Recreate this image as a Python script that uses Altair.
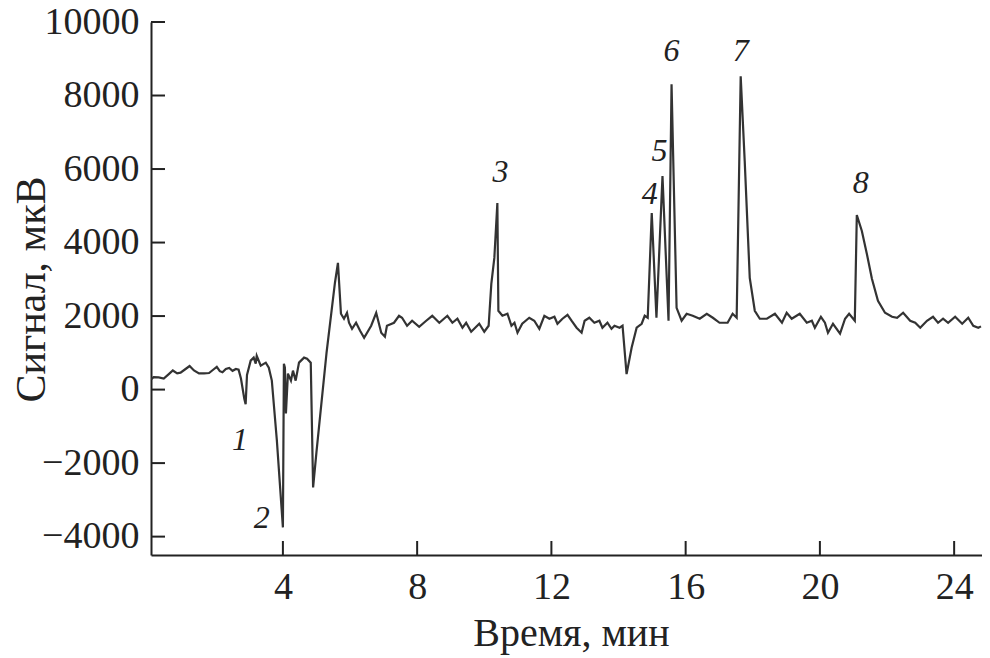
import altair as alt
import pandas as pd

# Chromatogram trace: time (min) and signal (uV)
time_min = [
    0.07, 0.15, 0.30, 0.45, 0.60, 0.72, 0.85, 0.95, 1.10, 1.22, 1.35, 1.50, 1.65, 1.80, 1.95,
    2.03, 2.12, 2.20, 2.30, 2.40, 2.50, 2.60, 2.68, 2.75, 2.85, 2.89, 2.93, 3.04, 3.13, 3.19,
    3.22, 3.34, 3.49, 3.58, 3.67, 3.82, 4.00, 4.03, 4.06, 4.09, 4.15, 4.24, 4.30, 4.38, 4.48,
    4.63, 4.72, 4.83, 4.90, 5.00, 5.30, 5.55, 5.64, 5.73, 5.82, 5.91, 5.97, 6.06, 6.18, 6.30,
    6.42, 6.63, 6.78, 6.93, 7.04, 7.10, 7.31, 7.46, 7.55, 7.70, 7.85, 8.06, 8.27, 8.45, 8.66,
    8.90, 9.05, 9.20, 9.35, 9.46, 9.61, 9.85, 10.00, 10.13, 10.21, 10.30, 10.39, 10.42, 10.54,
    10.69, 10.81, 10.90, 10.99, 11.13, 11.34, 11.49, 11.64, 11.79, 11.94, 12.09, 12.18, 12.33,
    12.48, 12.60, 12.75, 12.90, 12.99, 13.13, 13.28, 13.43, 13.52, 13.67, 13.79, 13.88, 14.03,
    14.12, 14.24, 14.39, 14.54, 14.69, 14.78, 14.87, 14.99, 15.13, 15.31, 15.49, 15.58, 15.73,
    15.88, 16.03, 16.21, 16.42, 16.63, 16.81, 17.01, 17.25, 17.40, 17.52, 17.64, 17.76, 17.91,
    18.06, 18.21, 18.42, 18.66, 18.87, 19.01, 19.16, 19.40, 19.61, 19.76, 19.85, 20.03, 20.15,
    20.24, 20.39, 20.60, 20.75, 20.87, 21.04, 21.10, 21.25, 21.40, 21.55, 21.73, 21.94, 22.15,
    22.30, 22.48, 22.69, 22.84, 22.99, 23.19, 23.37, 23.52, 23.67, 23.82, 24.03, 24.24, 24.42,
    24.57, 24.72, 24.80,
]
signal_uv = [
    280, 340, 330, 300, 420, 520, 440, 460, 560, 640, 520, 440, 440, 450, 560,
    620, 500, 470, 560, 590, 510, 560, 540, 300, -250, -400, 400, 787, 870, 705,
    920, 650, 733, 597, 244, -1384, -3750, 705, 600, -650, 434, 244, 515, 244, 733,
    870, 840, 733, -2660, -1700, 1000, 2900, 3447, 2063, 1927, 2090, 1818, 1655, 1818, 1600,
    1411, 1737, 2090, 1547, 1438, 1737, 1818, 2008, 1954, 1737, 1873, 1710, 1873, 2008, 1818,
    2008, 1818, 1927, 1683, 1818, 1574, 1791, 1574, 1737, 2877, 3582, 5075, 2144, 2008,
    2063, 1737, 1818, 1547, 1791, 1954, 1873, 1655, 2008, 1927, 1981, 1791, 1927,
    2035, 1873, 1683, 1547, 1873, 1954, 1818, 1873, 1683, 1818, 1655, 1737, 1683,
    1737, 420, 1140, 1683, 1791, 2008, 1954, 4804, 1954, 5808, 1873, 8305, 2225,
    1873, 2063, 2008, 1927, 2063, 1954, 1818, 1818, 2063, 1954, 8522, 6215, 3040,
    2144, 1927, 1927, 2063, 1818, 2090, 1927, 2063, 1818, 1873, 1683, 1981, 1818,
    1547, 1791, 1520, 1927, 2063, 1873, 4750, 4315, 3690, 3013, 2415, 2090, 1981,
    1954, 2090, 1873, 1818, 1683, 1873, 1981, 1818, 1927, 1818, 1981, 1791, 1954,
    1737, 1683, 1720,
]

# Peak numbers and where they sit
peak_labels = ["1", "2", "3", "4", "5", "6", "7", "8"]
peak_t = [2.72, 3.37, 10.48, 14.93, 15.22, 15.58, 17.64, 21.22]
peak_v = [-1384, -3500, 5916, 5320, 6486, 9200, 9200, 5618]

y_ticks = [-4000, -2000, 0, 2000, 4000, 6000, 8000, 10000]
x_ticks = [4, 8, 12, 16, 20, 24]

W, H = 831, 533
INK = "#222222"
SERIF = "Liberation Serif"

xs = alt.Scale(domain=[0.07, 24.83], nice=False, zero=False)
ys = alt.Scale(domain=[-4500, 10000], nice=False, zero=False)

x_axis = alt.Axis(
    values=x_ticks, title="Время, мин", format="d",
    labelFontSize=38, labelPadding=13,
    titleFontSize=40, titleX=420, titleY=90,
    titleBaseline="alphabetic", titleAlign="center",
)
y_axis = alt.Axis(
    values=y_ticks, title="Сигнал, мкВ", format="d",
    labelFontSize=38, labelPadding=12,
    titleFontSize=42, titleAngle=270, titleX=-107, titleY=267,
    titleBaseline="alphabetic", titleAlign="center",
)

trace = pd.DataFrame({"t": time_min, "v": signal_uv})
labels = pd.DataFrame({"t": peak_t, "v": peak_v, "label": peak_labels})

line = alt.Chart(trace).mark_line(color="#333333", strokeWidth=2.2, clip=True).encode(
    x=alt.X("t:Q", scale=xs, axis=x_axis),
    y=alt.Y("v:Q", scale=ys, axis=y_axis),
)

yt = alt.Chart(pd.DataFrame({"v": y_ticks})).mark_rule(color=INK, strokeWidth=2).encode(
    y=alt.Y("v:Q", scale=ys, axis=y_axis),
    x=alt.value(0), x2=alt.value(14),
)
xt = alt.Chart(pd.DataFrame({"t": x_ticks})).mark_rule(color=INK, strokeWidth=2).encode(
    x=alt.X("t:Q", scale=xs, axis=x_axis),
    y=alt.value(H - 14), y2=alt.value(H),
)

txt = alt.Chart(labels).mark_text(
    font=SERIF, fontStyle="italic", fontSize=32, color=INK,
    align="center", baseline="middle",
).encode(
    x=alt.X("t:Q", scale=xs, axis=x_axis),
    y=alt.Y("v:Q", scale=ys, axis=y_axis),
    text="label:N",
)

chart = alt.layer(line, yt, xt, txt).properties(
    width=W, height=H,
    autosize=alt.AutoSizeParams(type="none"),
    padding={"left": 143, "top": 14, "right": 0, "bottom": 100},
    background="white",
).configure_view(stroke=None).configure_axis(
    domainColor=INK, domainWidth=2, ticks=False, grid=False,
    labelFont=SERIF, labelColor=INK, titleFont=SERIF, titleColor=INK,
    titleFontWeight="normal",
)

chart.save("out.html", embed_options={"renderer": "svg", "actions": False})
